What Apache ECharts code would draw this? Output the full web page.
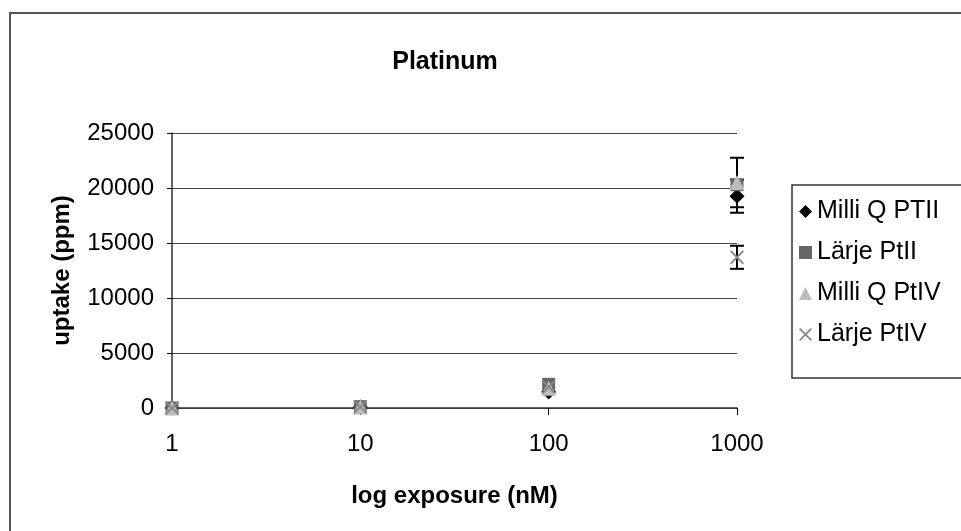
<!DOCTYPE html>
<html>
<head>
<meta charset="utf-8">
<script src="https://cdn.jsdelivr.net/npm/echarts@6/dist/echarts.min.js"></script>
<style>
  html, body { margin: 0; padding: 0; background: #fff; }
  #main { width: 961px; height: 531px; }
</style>
</head>
<body>
<div id="main"></div>
<script>
// exposure (nM) on a log axis
var exposure = [1, 10, 100, 1000];

var milliQPtII = [0, 100, 1450, 19250];
var larjePtII = [0, 120, 2150, 20300];
var milliQPtIV = [0, 90, 1800, 20500];
var larjePtIV = [0, 110, 1900, 13700];

// error bars (+/-), only visible at 1000 nM
var errMilliQPtII = [0, 0, 0, 1500];
var errMilliQPtIV = [0, 0, 0, 2250];
var errLarjePtIV = [0, 0, 0, 1050];

var yTicks = [0, 5000, 10000, 15000, 20000, 25000];
var xTicks = [1, 10, 100, 1000];

var font = "Liberation Sans, Arial, sans-serif";
var xPath = "path://M0,1L1,0L5,4L9,0L10,1L6,5L10,9L9,10L5,6L1,10L0,9L4,5Z";

function pairs(vals) {
  return exposure.map(function (x, i) { return [x, vals[i]]; });
}

function errData(vals, errs) {
  var out = [];
  for (var i = 0; i < exposure.length; i++) {
    if (errs[i] > 0) out.push([exposure[i], vals[i] - errs[i], vals[i] + errs[i]]);
  }
  return out;
}

function errSeries(vals, errs) {
  return {
    type: "custom",
    silent: true,
    z: 1,
    data: errData(vals, errs),
    renderItem: function (params, api) {
      var lo = api.coord([api.value(0), api.value(1)]);
      var hi = api.coord([api.value(0), api.value(2)]);
      var w = 7;
      var st = { stroke: "#000", lineWidth: 2 };
      return {
        type: "group",
        children: [
          { type: "line", shape: { x1: lo[0], y1: lo[1], x2: hi[0], y2: hi[1] }, style: st },
          { type: "line", shape: { x1: lo[0] - w, y1: lo[1], x2: lo[0] + w, y2: lo[1] }, style: st },
          { type: "line", shape: { x1: hi[0] - w, y1: hi[1], x2: hi[0] + w, y2: hi[1] }, style: st }
        ]
      };
    }
  };
}

var chart = echarts.init(document.getElementById("main"));

var option = {
  animation: false,
  backgroundColor: "#fff",
  graphic: [
    {
      type: "rect",
      shape: { x: 10, y: 13, width: 1000, height: 600 },
      style: { fill: "none", stroke: "#555", lineWidth: 2 },
      silent: true
    }
  ],
  title: {
    text: "Platinum",
    left: 440,
    top: 45,
    textAlign: "center",
    textStyle: { fontFamily: font, fontSize: 25, fontWeight: "bold", color: "#000" }
  },
  legend: {
    orient: "vertical",
    left: 792,
    top: 185,
    itemGap: 16,
    itemWidth: 13,
    itemHeight: 13,
    padding: [14, 40, 31, 7],
    borderColor: "#333",
    borderWidth: 1.5,
    textStyle: { fontFamily: font, fontSize: 25, color: "#000" },
    data: ["Milli Q PTII", "Lärje PtII", "Milli Q PtIV", "Lärje PtIV"]
  },
  grid: { left: 172, right: 224, top: 133, bottom: 123 },
  xAxis: {
    type: "log",
    logBase: 10,
    min: 1,
    max: 1000,
    name: "log exposure (nM)",
    nameLocation: "middle",
    nameGap: 76,
    nameTextStyle: { fontFamily: font, fontSize: 24, fontWeight: "bold", color: "#000" },
    axisLine: { lineStyle: { color: "#333", width: 1.5 } },
    axisTick: { show: true, length: 7, lineStyle: { color: "#000" } },
    axisLabel: {
      fontFamily: font,
      fontSize: 24,
      color: "#000",
      margin: 24,
      formatter: function (v) { return xTicks.indexOf(Math.round(v)) >= 0 ? String(Math.round(v)) : ""; }
    },
    splitLine: { show: false },
    minorTick: { show: false }
  },
  yAxis: {
    type: "value",
    min: 0,
    max: 25000,
    interval: 5000,
    name: "uptake (ppm)",
    nameLocation: "middle",
    nameGap: 98,
    nameTextStyle: { fontFamily: font, fontSize: 24, fontWeight: "bold", color: "#000" },
    axisLine: { show: true, lineStyle: { color: "#333", width: 1.5 } },
    axisTick: { show: true, length: 5, lineStyle: { color: "#000" } },
    axisLabel: {
      fontFamily: font,
      fontSize: 24,
      color: "#000",
      margin: 18,
      formatter: function (v) { return yTicks.indexOf(v) >= 0 ? String(v) : ""; }
    },
    splitLine: { show: true, lineStyle: { color: "#444", width: 1.2 } }
  },
  series: [
    errSeries(milliQPtIV, errMilliQPtIV),
    errSeries(milliQPtII, errMilliQPtII),
    errSeries(larjePtIV, errLarjePtIV),
    {
      name: "Milli Q PTII",
      type: "scatter",
      symbol: "diamond",
      symbolSize: 15,
      z: 3,
      itemStyle: { color: "#000", opacity: 1 },
      data: pairs(milliQPtII)
    },
    {
      name: "Lärje PtII",
      type: "scatter",
      symbol: "rect",
      symbolSize: 13,
      z: 4,
      itemStyle: { color: "#666", opacity: 1 },
      data: pairs(larjePtII)
    },
    {
      name: "Milli Q PtIV",
      type: "scatter",
      symbol: "triangle",
      symbolSize: 15,
      z: 5,
      itemStyle: { color: "#bcbcbc", opacity: 1 },
      data: pairs(milliQPtIV)
    },
    {
      name: "Lärje PtIV",
      type: "scatter",
      symbol: xPath,
      symbolSize: 14,
      z: 6,
      itemStyle: { color: "#8a8a8a", opacity: 1 },
      data: pairs(larjePtIV)
    }
  ]
};

chart.setOption(option);
</script>
</body>
</html>
